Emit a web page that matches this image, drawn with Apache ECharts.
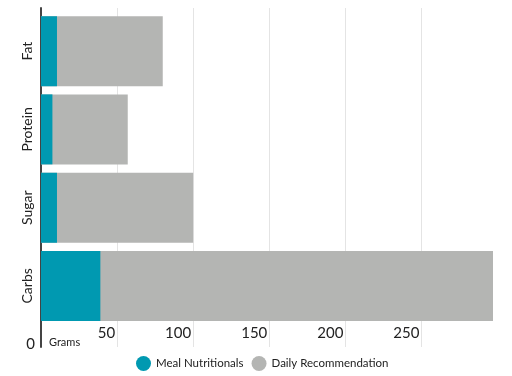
<!DOCTYPE html>
<html>
<head>
<meta charset="utf-8">
<script src="https://cdn.jsdelivr.net/npm/echarts@6/dist/echarts.min.js"></script>
<style>
  html, body { margin: 0; padding: 0; background: #fff; }
  #chart { width: 512px; height: 376px; }
</style>
</head>
<body>
<div id="chart"></div>
<script>
// nutrients, bottom to top
var categories = ['Carbs', 'Sugar', 'Protein', 'Fat'];
var mealValues = [39, 10.5, 7.5, 10.5];
var dailyValues = [297, 100, 57, 80];
var tickValues = [0, 50, 100, 150, 200, 250];
var axisMax = 297;

var teal = '#0099b1';
var grey = '#b4b5b3';
var font = 'Lato';

var chart = echarts.init(document.getElementById('chart'));

var option = {
    animation: false,
    textStyle: { fontFamily: font },
    legend: {
        bottom: 0,
        left: 131,
        icon: 'circle',
        itemWidth: 15,
        itemHeight: 15,
        itemGap: 8,
        textStyle: { fontSize: 11.5, color: '#222', fontFamily: font },
        data: ['Meal Nutritionals', 'Daily Recommendation']
    },
    graphic: [{
        type: 'text',
        left: 49,
        top: 337,
        style: { text: 'Grams', fontSize: 11, fill: '#222', fontFamily: font }
    }],
    grid: [
        // bars
        { left: 41, right: 19, top: 12, bottom: 51 },
        // background frame: split lines and y axis line
        { left: 41, right: 19, top: 8, bottom: 29 }
    ],
    xAxis: [{
        type: 'value',
        gridIndex: 0,
        min: 0,
        max: axisMax,
        interval: 50,
        axisLine: { show: false },
        axisTick: { show: false },
        splitLine: { show: false },
        axisLabel: {
            margin: 1,
            align: 'right',
            fontSize: 15,
            color: '#222',
            padding: [0, 2, 0, 0],
            showMaxLabel: false,
            formatter: function (v) {
                if (tickValues.indexOf(v) < 0) return '';
                return v === 0 ? '{z|0}' : String(v);
            },
            rich: {
                z: { fontSize: 15, color: '#222', padding: [11, 4, 0, 0] }
            }
        }
    }, {
        type: 'value',
        gridIndex: 1,
        min: 0,
        max: axisMax,
        interval: 50,
        axisLine: { show: false },
        axisTick: { show: false },
        axisLabel: { show: false },
        splitLine: {
            lineStyle: {
                color: ['#e4e4e4', '#e4e4e4', '#e4e4e4', '#e4e4e4', '#e4e4e4', '#e4e4e4', 'rgba(0,0,0,0)'],
                width: 1
            }
        }
    }],
    yAxis: [{
        type: 'category',
        gridIndex: 0,
        data: categories,
        axisLine: { show: false },
        axisTick: { show: false },
        axisLabel: {
            rotate: 90,
            margin: 7,
            fontSize: 14,
            color: '#222'
        }
    }, {
        type: 'value',
        gridIndex: 1,
        axisLine: { show: true, lineStyle: { color: '#444', width: 2 } },
        axisTick: { show: false },
        axisLabel: { show: false },
        splitLine: { show: false }
    }],
    series: [{
        name: 'Daily Recommendation',
        type: 'bar',
        xAxisIndex: 0,
        yAxisIndex: 0,
        barWidth: 70,
        itemStyle: { color: grey },
        data: dailyValues,
        z: 2
    }, {
        name: 'Meal Nutritionals',
        type: 'bar',
        xAxisIndex: 0,
        yAxisIndex: 0,
        barWidth: 70,
        barGap: '-100%',
        itemStyle: { color: teal },
        data: mealValues,
        z: 3
    }]
};

chart.setOption(option);
</script>
</body>
</html>
